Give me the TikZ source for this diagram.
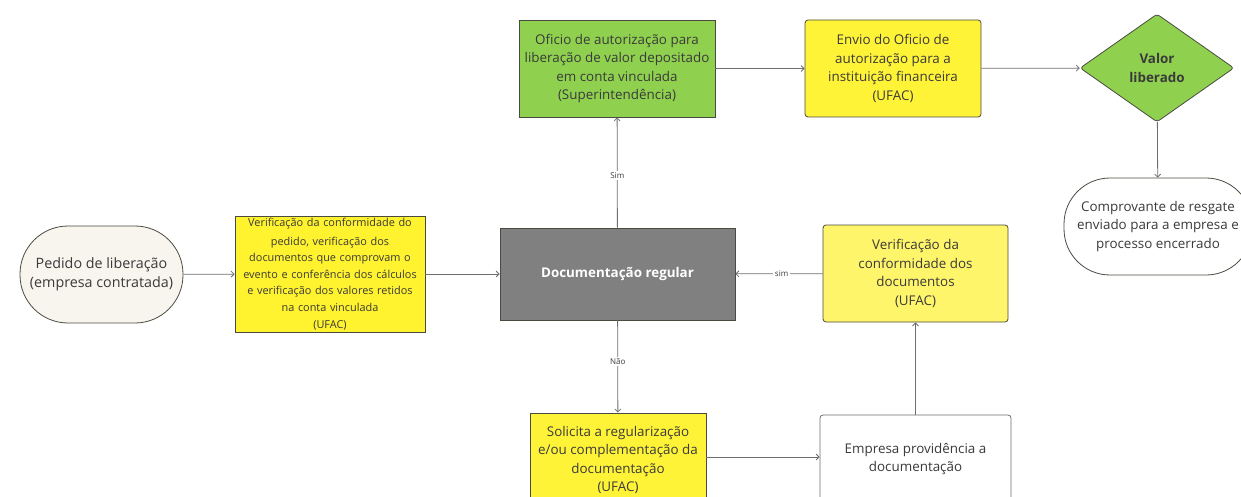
\documentclass[tikz,border=0pt]{standalone}
\usepackage{fontspec}
\setmainfont{Open Sans}
\usetikzlibrary{arrows.meta,shapes.geometric}
\definecolor{txt}{HTML}{3A3A3A}
\definecolor{edge}{HTML}{6E6E6E}
\definecolor{bord}{HTML}{4A4A40}
\definecolor{cream}{HTML}{F8F4EE}
\definecolor{ygreen}{HTML}{8FD14F}
\definecolor{yel}{HTML}{FFF22E}
\definecolor{yelb}{HTML}{FFF338}
\definecolor{yelc}{HTML}{FFF56B}
\definecolor{grayb}{HTML}{808080}
\begin{document}
\begin{tikzpicture}[x=1pt,y=-1pt,
  box/.style={draw=bord,line width=0.8pt,inner sep=0pt,align=center,text=txt,font=\fontsize{13.4}{18.5}\selectfont},
  rbox/.style={box,rounded corners=3pt},
  conn/.style={draw=edge,line width=0.8pt,-{Straight Barb[length=3pt,width=6pt]}},
  lab/.style={fill=white,inner sep=1.5pt,text=txt,font=\fontsize{8}{9}\selectfont}]
\useasboundingbox (0,0) rectangle (1241,497);
\begin{scope}
\clip (0,0) rectangle (1241,497);
% nodes
\node[box,fill=cream,rounded corners=48pt,minimum width=163pt,minimum height=97pt,font=\fontsize{14.3}{19.5}\selectfont] (ped) at (101.5,274.5) {Pedido de liberação\\(empresa contratada)};
\node[box,fill=yel,minimum width=190pt,minimum height=116pt,text width=186pt,font=\fontsize{10.9}{16.6}\selectfont] (ver) at (330,274) {\vspace{2pt}Verificação da conformidade do\\pedido, verificação dos\\documentos que comprovam o\\evento e conferência dos cálculos\\e verificação dos valores retidos\\na conta vinculada\\(UFAC)};
\node[box,fill=grayb,minimum width=235pt,minimum height=92pt,text=white,font=\fontsize{13.4}{18}\selectfont\bfseries] (doc) at (617.5,274) {Documentação regular};
\node[box,fill=ygreen,minimum width=196pt,minimum height=97pt] (ofi) at (617,68.5) {Oficio de autorização para\\liberação de valor depositado\\em conta vinculada\\(Superintendência)};
\node[rbox,fill=yelb,minimum width=176pt,minimum height=97pt] (env) at (893,68.5) {Envio do Oficio de\\autorização para a\\instituição financeira\\(UFAC)};
\node[box,shape=diamond,fill=ygreen,rounded corners=3pt,minimum width=154pt,minimum height=108pt,font=\fontsize{13.4}{18.5}\selectfont\bfseries] (val) at (1157,68) {Valor\\liberado};
\node[box,fill=white,rounded corners=46pt,minimum width=188pt,minimum height=97pt] (com) at (1158,226.5) {Comprovante de resgate\\enviado para a empresa e\\processo encerrado};
\node[rbox,fill=yelc,minimum width=185pt,minimum height=97pt] (vcd) at (915.5,273.5) {Verificação da\\conformidade dos\\documentos\\(UFAC)};
\node[box,fill=yelb,minimum width=176pt,minimum height=94pt] (sol) at (618,460) {Solicita a regularização\\e/ou complementação da\\documentação\\(UFAC)};
\node[rbox,draw=edge,fill=white,minimum width=191pt,minimum height=100pt] (emp) at (915.5,465) {};
\node[text=txt,align=center,font=\fontsize{13.4}{18.5}\selectfont] (empt) at (915.5,459) {Empresa providência a\\documentação};
% connectors
\draw[conn] (ped) -- (ver);
\draw[conn] (ver) -- (doc);
\draw[conn] (doc) -- node[lab,pos=0.47] {Sim} (ofi);
\draw[conn] (ofi) -- (env);
\draw[conn] (env) -- (val);
\draw[conn] (val) -- (com);
\draw[conn] (doc) -- node[lab,pos=0.45] {Não} (sol);
\draw[conn] (sol.east |- 0,457) -- (emp.west |- 0,457);
\draw[conn] (emp) -- (vcd);
\draw[conn] (vcd) -- node[lab,pos=0.47] {sim} (doc);
\end{scope}
\end{tikzpicture}
\end{document}
